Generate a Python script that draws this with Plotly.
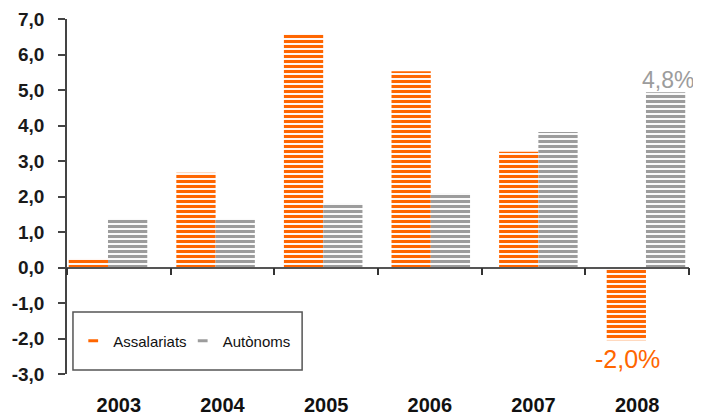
import plotly.graph_objects as go

# ---- data ----
years = [2003, 2004, 2005, 2006, 2007, 2008]
year_labels = ["2003", "2004", "2005", "2006", "2007", "2008"]
assalariats = [0.25, 2.67, 6.58, 5.53, 3.26, -2.05]
autonoms = [1.37, 1.37, 1.80, 2.10, 3.82, 4.94]
series_names = ["Assalariats", "Autònoms"]
y_ticks = [-3, -2, -1, 0, 1, 2, 3, 4, 5, 6, 7]
y_tick_labels = [f"{v:.1f}".replace(".", ",") for v in y_ticks]
label_assalariats_2008 = "-2,0%"
label_autonoms_2008 = "4,8%"

ORANGE = "#FF6600"
GRAY = "#9C9C9C"
FONT = "Liberation Sans"

fig = go.Figure()

for name, vals, col in [(series_names[0], assalariats, ORANGE),
                        (series_names[1], autonoms, GRAY)]:
    fig.add_trace(go.Bar(
        x=years, y=vals, name=name, showlegend=False,
        marker=dict(color=col, line=dict(width=0),
                    pattern=dict(shape="-", fgcolor=col, bgcolor="white",
                                 size=5, solidity=0.62, fillmode="replace")),
        xaxis="x", yaxis="y", hoverinfo="x+y",
    ))

# legend entries (short dash symbols), one per legend for exact placement
for name, col, lg in [(series_names[0], ORANGE, "legend"),
                      (series_names[1], GRAY, "legend2")]:
    fig.add_trace(go.Scatter(
        x=[None], y=[None], mode="markers", name=name, legend=lg,
        marker=dict(symbol="line-ew", size=7, color=col,
                    line=dict(width=3, color=col)),
        xaxis="x", yaxis="y",
    ))

# invisible anchors so that the label axis and the zero axis are drawn
for ax in ["x2", "x3"]:
    fig.add_trace(go.Scatter(x=[None], y=[None], mode="markers",
                             showlegend=False, hoverinfo="skip",
                             xaxis=ax, yaxis="y"))

boundaries = [years[0] - 0.5 + i for i in range(len(years) + 1)]

legend_style = dict(orientation="h", y=0.093, xanchor="left",
                    yanchor="middle", font=dict(size=15, color="#111"),
                    itemwidth=30, bgcolor="rgba(0,0,0,0)", borderwidth=0)

# the page body has an 8px margin, so the figure is 8px smaller
fig.update_layout(
    width=693, height=409,
    margin=dict(l=59, r=12, t=11, b=43, autoexpand=False),
    paper_bgcolor="white", plot_bgcolor="white",
    font=dict(family=FONT, color="#1a1a1a"),
    bargap=0.27, bargroupgap=0,
    showlegend=True,
    legend=dict(x=0.010, **legend_style),
    legend2=dict(x=0.186, **legend_style),
    xaxis=dict(range=[2002.619, 2008.400], visible=False, fixedrange=True,
               automargin=False),
    xaxis2=dict(overlaying="x", anchor="y", side="bottom",
                range=[years[0] - 0.5, years[-1] + 0.5],
                tickmode="array", tickvals=years, ticktext=year_labels,
                ticks="outside", ticklen=13, tickcolor="rgba(0,0,0,0)",
                showline=False, showgrid=False, zeroline=False,
                automargin=False,
                tickfont=dict(size=20, family=FONT, color="#111",
                              weight="bold")),
    xaxis3=dict(overlaying="x", anchor="free", position=0.3,
                range=[years[0] - 0.5, years[-1] + 0.5],
                tickmode="array", tickvals=boundaries,
                ticks="outside", ticklen=7, tickwidth=1.5, tickcolor="#333",
                showline=True, linecolor="#555", linewidth=1.5,
                showticklabels=False, showgrid=False, zeroline=False,
                automargin=False),
    yaxis=dict(range=[-3, 7], tickmode="array", tickvals=y_ticks,
               ticktext=y_tick_labels, ticks="outside", ticklen=7,
               tickwidth=1.5, tickcolor="#444", showline=True,
               linecolor="#444", linewidth=1.5, showgrid=False,
               zeroline=False, automargin=False, ticklabelstandoff=10,
               tickfont=dict(size=19, family=FONT, color="#1a1a1a",
                             weight="bold")),
    shapes=[dict(type="rect", xref="paper", yref="paper",
                 x0=0.0096, x1=0.378, y0=0.0113, y1=0.1746,
                 line=dict(color="#555", width=1.5), fillcolor="white",
                 layer="below")],
    annotations=[
        dict(x=years[-1], y=autonoms[-1], xref="x", yref="y",
             text=label_autonoms_2008, showarrow=False, xanchor="center",
             yanchor="bottom", xshift=22, yshift=-3,
             font=dict(size=23, family=FONT, color=GRAY)),
        dict(x=years[-1], y=assalariats[-1], xref="x", yref="y",
             text=label_assalariats_2008, showarrow=False, xanchor="center",
             yanchor="top", xshift=-18, yshift=-3,
             font=dict(size=25, family=FONT, color=ORANGE)),
    ],
)

fig.write_html("out.html")
